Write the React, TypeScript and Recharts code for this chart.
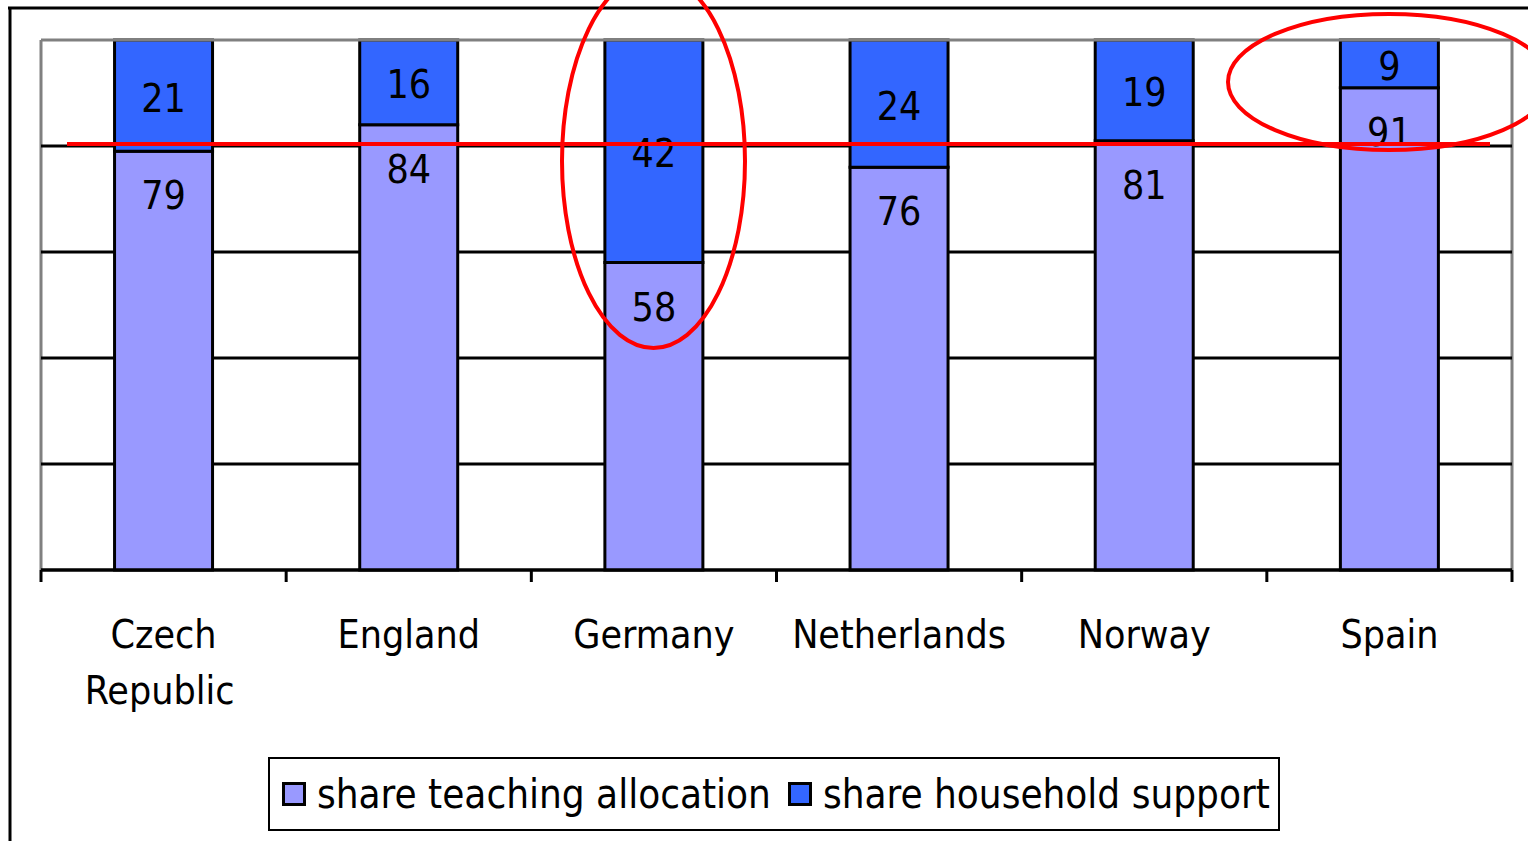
import React from 'react';
import { BarChart, Bar, XAxis, YAxis, CartesianGrid, LabelList, Legend, ReferenceLine } from 'recharts';

const countries = ['Czech Republic', 'England', 'Germany', 'Netherlands', 'Norway', 'Spain'];
const teachingShare = [79, 84, 58, 76, 81, 91];
const householdShare = [21, 16, 42, 24, 19, 9];
const yTicks = [0, 20, 40, 60, 80, 100];

const W = 1528;
const H = 841;
const MARGIN = { top: 40, right: 16, left: 41, bottom: 199 };
const PLOT_W = W - MARGIN.left - MARGIN.right;
const FONT = "'Liberation Sans Narrow', 'DejaVu Sans Condensed', 'DejaVu Sans', sans-serif";

const LIGHT = '#9999ff';
const DARK = '#3366ff';

const data = countries.map((c, i) => ({
  country: c,
  teaching: teachingShare[i],
  household: householdShare[i],
}));

// category labels, with tick marks on the band edges
const CategoryTick = (props: any) => {
  const { x, y, payload, index } = props;
  const band = PLOT_W / countries.length;
  const lines = payload.value === 'Czech Republic' ? ['Czech', 'Republic'] : [payload.value];
  return (
    <g>
      <line x1={x - band / 2} x2={x - band / 2} y1={y - 12} y2={y} stroke="#000" strokeWidth={3} />
      {index === countries.length - 1 && (
        <line x1={x + band / 2} x2={x + band / 2} y1={y - 12} y2={y} stroke="#000" strokeWidth={3} />
      )}
      {lines.map((l, i) => (
        <text key={l} x={i === 1 ? x - 4 : x} y={y + 66 + i * 56} textAnchor="middle" fontSize={39} fontFamily={FONT} fill="#000">
          {l}
        </text>
      ))}
    </g>
  );
};

const teachingLabel = (props: any) => {
  const { x, y, width, value } = props;
  return (
    <text x={x + width / 2} y={y + 58} textAnchor="middle" fontSize={39} fontFamily={FONT} fill="#000">
      {value}
    </text>
  );
};

const householdLabel = (props: any) => {
  const { x, y, width, height, value } = props;
  return (
    <text x={x + width / 2} y={y + height / 2 + 16} textAnchor="middle" fontSize={39} fontFamily={FONT} fill="#000">
      {value}
    </text>
  );
};

const legendItems = [
  { label: 'share teaching allocation', color: LIGHT },
  { label: 'share household support', color: DARK },
];

const renderLegend = () => (
  <div
    style={{
      boxSizing: 'border-box',
      width: 1012,
      height: 74,
      border: '2px solid #000',
      display: 'flex',
      alignItems: 'center',
      paddingLeft: 12,
      fontFamily: FONT,
      fontSize: 40,
      background: '#fff',
    }}
  >
    {legendItems.map((it, i) => (
      <div key={it.label} style={{ display: 'flex', alignItems: 'center', marginLeft: i === 0 ? 0 : 17 }}>
        <span
          style={{
            boxSizing: 'border-box',
            width: 24,
            height: 24,
            background: it.color,
            border: '3px solid #000',
            marginRight: 11,
          }}
        />
        <span style={{ lineHeight: 1 }}>{it.label}</span>
      </div>
    ))}
  </div>
);

export default function App() {
  return (
    <div style={{ position: 'absolute', left: 0, top: 0, width: W, height: H, background: '#fff' }}>
      <BarChart width={W} height={H} data={data} margin={MARGIN} barCategoryGap="30%">
        {/* gray plot border on left / right */}
        <CartesianGrid
          horizontal={false}
          stroke="#808080"
          strokeWidth={3}
          verticalCoordinatesGenerator={(p: any) =>
            p && p.offset ? [p.offset.left, p.offset.left + p.offset.width] : [MARGIN.left, MARGIN.left + PLOT_W]
          }
        />
        {/* black horizontal gridlines */}
        <CartesianGrid vertical={false} stroke="#000" strokeWidth={3} horizontalValues={yTicks.slice(0, -1)} />
        <XAxis
          dataKey="country"
          height={72}
          axisLine={{ stroke: '#000', strokeWidth: 3 }}
          tickLine={false}
          tickSize={12}
          tickMargin={0}
          interval={0}
          tick={<CategoryTick />}
        />
        <YAxis domain={[0, 100]} ticks={yTicks} width={0} hide />
        <ReferenceLine y={100} stroke="#808080" strokeWidth={3} />
        <Bar dataKey="teaching" stackId="a" fill={LIGHT} stroke="#000" strokeWidth={3} isAnimationActive={false}>
          <LabelList dataKey="teaching" content={teachingLabel} />
        </Bar>
        <Bar dataKey="household" stackId="a" fill={DARK} stroke="#000" strokeWidth={3} isAnimationActive={false}>
          <LabelList dataKey="household" content={householdLabel} />
        </Bar>
        <Legend
          layout="horizontal"
          verticalAlign="middle"
          align="center"
          wrapperStyle={{ left: 268, top: 757, width: 1012, height: 74 }}
          content={renderLegend}
        />
      </BarChart>
      {/* frame and hand-drawn red annotations */}
      <svg width={W} height={H} style={{ position: 'absolute', left: 0, top: 0, pointerEvents: 'none' }}>
        <line x1={10} y1={7} x2={10} y2={H} stroke="#000" strokeWidth={3} />
        <line x1={8} y1={8} x2={W} y2={8} stroke="#000" strokeWidth={3} />
        <line x1={67} y1={144} x2={1490} y2={144} stroke="#ff0000" strokeWidth={4} />
        <ellipse cx={653.5} cy={161} rx={91.5} ry={187} fill="none" stroke="#ff0000" strokeWidth={4} />
        <ellipse cx={1389} cy={82} rx={161} ry={68} fill="none" stroke="#ff0000" strokeWidth={4} />
      </svg>
    </div>
  );
}
